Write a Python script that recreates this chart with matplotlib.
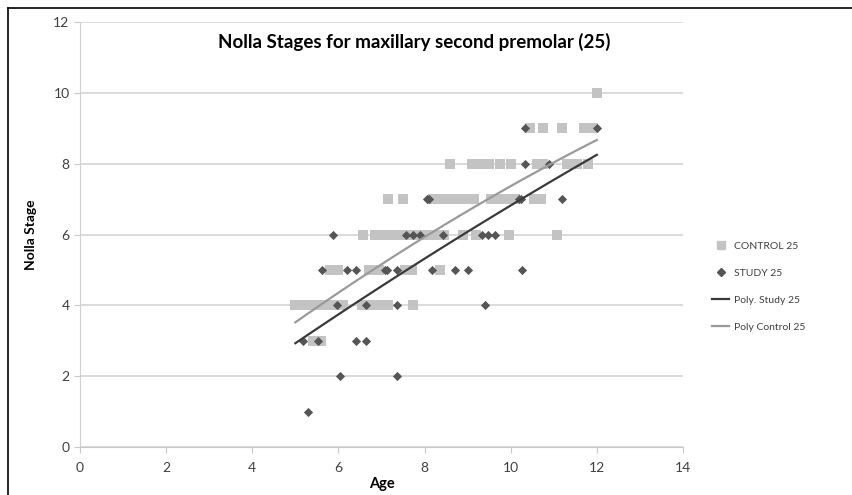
import numpy as np
import matplotlib.pyplot as plt
from matplotlib.lines import Line2D

# control group (light squares), grouped by Nolla stage
control_age = [12.0,
               10.45, 10.75, 11.2, 11.7, 11.9,
               8.6, 9.1, 9.3, 9.5, 9.75, 10.0, 10.6, 10.75, 11.3, 11.55, 11.8,
               7.15, 7.5, 8.2, 8.4, 8.6, 8.8, 9.0, 9.15, 9.55, 9.75, 9.95, 10.1, 10.55, 10.7,
               6.57, 6.85, 7.05, 7.25, 7.45, 7.65, 7.85, 8.05, 8.25, 8.45, 8.9, 9.2, 9.95, 11.07,
               5.8, 6.0, 6.7, 6.95, 7.55, 7.7, 8.35,
               5.0, 5.2, 5.4, 5.6, 5.8, 6.0, 6.1, 6.55, 6.75, 6.95, 7.15, 7.73,
               5.4, 5.6]
control_stage = [10,
                 9, 9, 9, 9, 9,
                 8, 8, 8, 8, 8, 8, 8, 8, 8, 8, 8,
                 7, 7, 7, 7, 7, 7, 7, 7, 7, 7, 7, 7, 7, 7,
                 6, 6, 6, 6, 6, 6, 6, 6, 6, 6, 6, 6, 6, 6,
                 5, 5, 5, 5, 5, 5, 5,
                 4, 4, 4, 4, 4, 4, 4, 4, 4, 4, 4, 4,
                 3, 3]

# study group (dark diamonds)
study_age = [10.33, 12.0,
             10.33, 10.9,
             8.05, 8.1, 10.2, 10.25, 11.2,
             5.88, 7.57, 7.73, 7.9, 8.43, 9.33, 9.47, 9.63,
             5.62, 6.2, 6.4, 7.08, 7.13, 7.36, 8.17, 8.7, 9.0, 10.27,
             5.97, 6.65, 7.36, 9.4,
             5.17, 5.53, 6.4, 6.65,
             6.04, 7.36,
             5.3]
study_stage = [9, 9,
               8, 8,
               7, 7, 7, 7, 7,
               6, 6, 6, 6, 6, 6, 6, 6,
               5, 5, 5, 5, 5, 5, 5, 5, 5, 5,
               4, 4, 4, 4,
               3, 3, 3, 3,
               2, 2,
               1]

# polynomial trend lines
trend_age = [5.0, 8.5, 12.0]
study_trend = [2.93, 5.7, 8.25]
control_trend = [3.52, 6.3, 8.67]

plt.rcParams['font.family'] = ['Lato', 'DejaVu Sans']

fig = plt.figure(figsize=(8.53, 4.95), dpi=100)
ax = fig.add_axes([80 / 853, 48 / 495, 603 / 853, 425 / 495])

# smooth the 3 read points with a quadratic through them
c_s = np.polyfit(trend_age, study_trend, 2)
c_c = np.polyfit(trend_age, control_trend, 2)
xx = np.linspace(trend_age[0], trend_age[-1], 50)

ax.scatter(control_age, control_stage, marker='s', s=48, color='#c3c3c3',
           linewidths=0, zorder=3)
ax.scatter(study_age, study_stage, marker='D', s=22, color='#555555',
           linewidths=0, zorder=4)
ax.plot(xx, np.polyval(c_s, xx), color='#3a3a3a', lw=1.6, zorder=5)
ax.plot(xx, np.polyval(c_c, xx), color='#9a9a9a', lw=1.6, zorder=5)

ax.set_xlim(0, 14)
ax.set_ylim(0, 12)
ax.set_xticks(range(0, 15, 2))
ax.set_yticks(range(0, 13, 2))
ax.grid(axis='y', color='#d4d4d4', lw=1.2)
ax.set_axisbelow(True)
for s in ['top', 'right']:
    ax.spines[s].set_visible(False)
ax.spines['left'].set_color('#d0d0d0')
ax.spines['bottom'].set_color('#c8c8c8')
ax.tick_params(colors='#c8c8c8', labelcolor='#404040', labelsize=10, length=4)
ax.tick_params(axis='x', pad=7)

ax.set_xlabel('Age', fontsize=10.5, fontweight='bold', labelpad=2)
ax.set_ylabel('Nolla Stage', fontsize=10, fontweight='bold', labelpad=12)
ax.set_title('Nolla Stages for maxillary second premolar (25)', fontsize=13.5,
             fontweight='bold', x=0.555, y=0.92)

handles = [
    Line2D([], [], marker='s', ls='none', color='#c3c3c3', markersize=6),
    Line2D([], [], marker='D', ls='none', color='#555555', markersize=4),
    Line2D([], [], color='#3a3a3a', lw=1.6),
    Line2D([], [], color='#9a9a9a', lw=1.6),
]
labels = ['CONTROL 25', 'STUDY 25', 'Poly. Study 25', 'Poly Control 25']
fig.legend(handles, labels, loc='upper left', bbox_to_anchor=(703 / 853, 1 - 232 / 495),
           frameon=False, fontsize=7.5, handlelength=1.6, labelspacing=1.7,
           handletextpad=0.5, labelcolor='#404040')

# outer frame of the original figure
fig.add_artist(Line2D([8 / 853, 8 / 853], [0, 1 - 8 / 495], color='black', lw=1.2))
fig.add_artist(Line2D([8 / 853, 1], [1 - 8 / 495, 1 - 8 / 495], color='black', lw=1.2))

fig.savefig('out.png', dpi=100)
